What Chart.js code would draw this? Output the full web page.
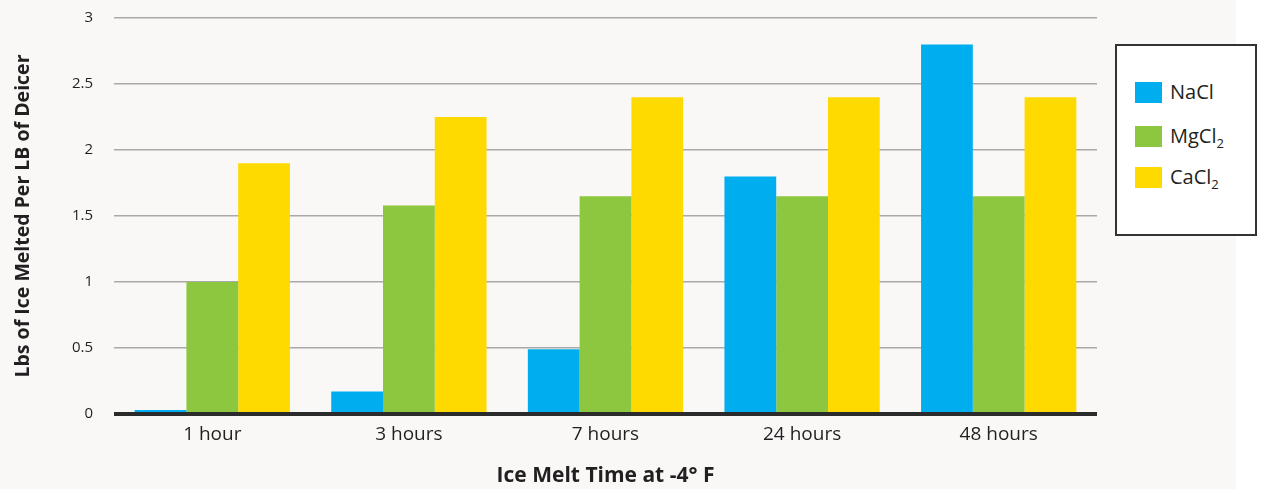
<!DOCTYPE html>
<html>
<head>
<meta charset="utf-8">
<script src="https://cdn.jsdelivr.net/npm/chart.js@4/dist/chart.umd.min.js"></script>
<style>
  html, body { margin: 0; padding: 0; background: #ffffff; }
  #wrap { position: relative; width: 1236px; height: 489px; background: #f9f8f7; }
  #legend {
    position: absolute; left: 1115px; top: 44px; width: 138px; height: 188px;
    background: #ffffff; border: 2px solid #333333;
    font-family: "Open Sans", sans-serif; font-size: 20px; color: #231f20;
  }
  .item { position: absolute; left: 18px; height: 21px; line-height: 21px; }
  .swatch { position: absolute; left: 0; top: 0; width: 27px; height: 21px; }
  .label { position: absolute; left: 35px; top: -1px; white-space: nowrap; }
  .label sub { font-size: 13px; vertical-align: -5px; line-height: 0; }
</style>
</head>
<body>
<div id="wrap">
  <canvas id="chart" width="1236" height="489"></canvas>
  <div id="legend"></div>
</div>
<script>
// chart data
const categories = ['1 hour', '3 hours', '7 hours', '24 hours', '48 hours'];
const nacl = [0.03, 0.17, 0.49, 1.80, 2.80];
const mgcl2 = [1.00, 1.58, 1.65, 1.65, 1.65];
const cacl2 = [1.90, 2.25, 2.40, 2.40, 2.40];
const yTicks = [0, 0.5, 1, 1.5, 2, 2.5, 3];

// series names (base, subscript)
const seriesNames = [['NaCl', ''], ['MgCl', '2'], ['CaCl', '2']];
const seriesColors = ['#00aeef', '#8dc63f', '#ffda00'];

const textColor = '#231f20';
const fontFamily = '"Open Sans", sans-serif';

// thick zero line drawn above the bars
const zeroLine = {
  id: 'zeroLine',
  afterDatasetsDraw(chart) {
    const { ctx, chartArea, scales } = chart;
    const y = scales.y.getPixelForValue(0);
    ctx.save();
    ctx.strokeStyle = '#2b2b2b';
    ctx.lineWidth = 4;
    ctx.beginPath();
    ctx.moveTo(chartArea.left, y);
    ctx.lineTo(chartArea.right, y);
    ctx.stroke();
    ctx.restore();
  }
};

const chart = new Chart(document.getElementById('chart'), {
  type: 'bar',
  data: {
    labels: categories,
    datasets: [nacl, mgcl2, cacl2].map((values, i) => ({
      label: seriesNames[i].join(''),
      data: values,
      backgroundColor: seriesColors[i],
      borderWidth: 0,
      barPercentage: 1,
      categoryPercentage: 0.79
    }))
  },
  options: {
    responsive: false,
    animation: false,
    layout: { padding: { left: 0, right: 139, top: 18, bottom: 0 } },
    plugins: {
      legend: { display: false },
      tooltip: { enabled: false }
    },
    scales: {
      x: {
        grid: { display: false, drawTicks: false },
        border: { display: false },
        ticks: {
          color: textColor,
          padding: 9,
          font: { family: fontFamily, size: 19 }
        },
        title: {
          display: true,
          text: 'Ice Melt Time at -4° F',
          color: textColor,
          padding: { top: 0, bottom: 0 },
          font: { family: fontFamily, size: 21, weight: 'bold' }
        },
        afterFit(scale) { scale.height = 75; }
      },
      y: {
        min: 0,
        max: 3,
        afterBuildTicks(scale) { scale.ticks = yTicks.map(v => ({ value: v })); },
        grid: {
          color: '#a9a9a9',
          lineWidth: 1.5,
          drawTicks: true,
          tickLength: 20,
          tickColor: 'rgba(0,0,0,0)'
        },
        border: { display: false },
        ticks: {
          color: textColor,
          padding: 1,
          font: { family: fontFamily, size: 15 },
          callback: v => String(v)
        },
        title: {
          display: true,
          text: 'Lbs of Ice Melted Per LB of Deicer',
          color: textColor,
          padding: { top: 12, bottom: 0 },
          font: { family: fontFamily, size: 19.5, weight: 'bold' }
        },
        afterFit(scale) { scale.width = 114; }
      }
    }
  },
  plugins: [zeroLine]
});

// html legend with subscripts
const legend = document.getElementById('legend');
const itemTops = [36, 80, 121];
seriesNames.forEach((name, i) => {
  const item = document.createElement('div');
  item.className = 'item';
  item.style.top = itemTops[i] + 'px';
  item.innerHTML = '<div class="swatch" style="background:' + seriesColors[i] + '"></div>' +
    '<div class="label">' + name[0] + (name[1] ? '<sub>' + name[1] + '</sub>' : '') + '</div>';
  legend.appendChild(item);
});
</script>
</body>
</html>
